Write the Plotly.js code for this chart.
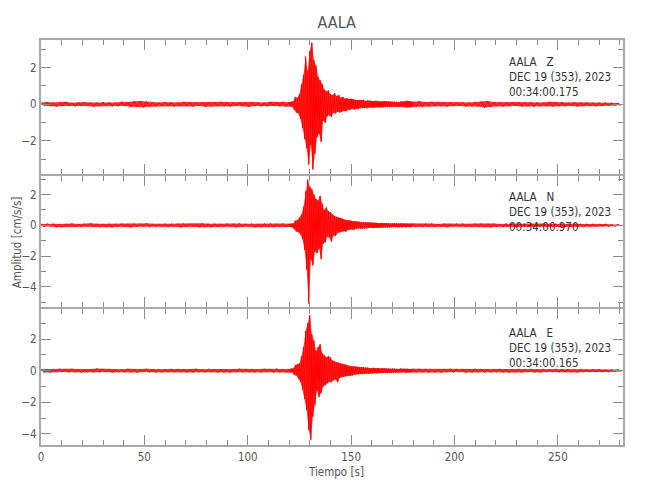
<!DOCTYPE html>
<html>
<head>
<meta charset="utf-8">
<script src="https://cdn.plot.ly/plotly-3.0.1.min.js"></script>
<style>html,body{margin:0;padding:0;background:#fff;}</style>
</head>
<body>
<div id="chart" style="width:650px;height:500px;"></div>
<script>
// Sampling of the three segments (start time, step in s)
var preStart = 0, preStep = 1.5;
var burstStart = 120.5, burstStep = 0.5;
var postStart = 181.5, postStep = 1.5;

// Component labels and header text
var components = ['Z', 'N', 'E'];
var startTimes = ['00:34:00.175', '00:34:00.970', '00:34:00.165'];
var station = 'AALA';
var dateLabel = 'DEC 19 (353), 2023';

// ---- Z component (cm/s/s), alternating peak values ----
var zPre = [
0.10,-0.08,0.12,-0.11,0.09,-0.12,0.11,-0.09,0.13,-0.10,
0.08,-0.12,0.11,-0.10,0.12,-0.09,0.10,-0.13,0.09,-0.11,
0.12,-0.10,0.11,-0.12,0.09,-0.11,0.13,-0.10,0.12,-0.14,
0.16,-0.15,0.18,-0.17,0.15,-0.13,0.11,-0.12,0.10,-0.09,
0.12,-0.11,0.10,-0.12,0.09,-0.10,0.13,-0.11,0.10,-0.12,
0.11,-0.09,0.12,-0.13,0.10,-0.11,0.12,-0.10,0.13,-0.11,
0.10,-0.12,0.11,-0.09,0.12,-0.11,0.10,-0.13,0.12,-0.10,
0.11,-0.12,0.09,-0.11,0.13,-0.10,0.12,-0.11,0.14,-0.12,
0.11];
var zBurst = [
-0.12,0.14,-0.13,0.15,-0.30,0.40,-0.45,0.35,-0.50,0.55,
-0.80,1.10,-1.30,1.60,-1.90,2.60,-2.40,1.80,-3.30,2.90,
-2.20,3.35,-3.55,2.40,-2.70,2.10,-1.80,1.50,-1.60,1.30,
-2.05,1.10,-0.90,0.80,-1.00,0.70,-0.65,0.75,-0.60,0.55,
-0.70,0.50,-0.45,0.60,-0.50,0.45,-0.40,0.50,-0.45,0.35,
-0.40,0.40,-0.35,0.30,-0.38,0.32,-0.30,0.28,-0.30,0.30,
-0.25,0.27,-0.28,0.24,-0.25,0.22,-0.26,0.23,-0.20,0.22,
-0.20,0.24,-0.20,0.18,-0.22,0.20,-0.18,0.20,-0.19,0.18,
-0.20,0.17,-0.18,0.20,-0.16,0.18,-0.17,0.16,-0.18,0.15,
-0.16,0.17,-0.15,0.16,-0.14,0.15,-0.16,0.14,-0.15,0.13,
-0.14,0.13,-0.15,0.14,-0.13,0.12,-0.14,0.15,-0.13,0.14,
-0.15,0.16,-0.18,0.19,-0.17,0.18,-0.16,0.15,-0.14,0.13];
var zPost = [
-0.14,0.16,-0.13,0.12,-0.11,0.13,-0.10,0.12,-0.11,0.10,
-0.12,0.11,-0.10,0.12,-0.09,0.11,-0.12,0.10,-0.11,0.13,
-0.12,0.15,-0.18,0.17,-0.14,0.12,-0.11,0.10,-0.12,0.11,
-0.10,0.12,-0.09,0.11,-0.12,0.10,-0.11,0.12,-0.13,0.11,
-0.12,0.10,-0.11,0.13,-0.12,0.11,-0.10,0.12,-0.11,0.09,
-0.10,0.11,-0.12,0.10,-0.09,0.11,-0.10,0.09,-0.11,0.10,
-0.09,0.10,-0.08,0.09,-0.08,0.07,-0.06];

// ---- N component (cm/s/s) ----
var nPre = [
0.09,-0.10,0.11,-0.08,0.10,-0.12,0.09,-0.11,0.10,-0.09,
0.12,-0.10,0.08,-0.11,0.10,-0.09,0.13,-0.11,0.10,-0.12,
0.09,-0.10,0.11,-0.12,0.10,-0.09,0.12,-0.11,0.10,-0.13,
0.12,-0.10,0.11,-0.09,0.13,-0.12,0.10,-0.11,0.09,-0.10,
0.12,-0.11,0.10,-0.09,0.11,-0.13,0.12,-0.10,0.11,-0.09,
0.10,-0.12,0.13,-0.11,0.10,-0.12,0.11,-0.10,0.09,-0.11,
0.12,-0.10,0.11,-0.13,0.12,-0.11,0.10,-0.09,0.11,-0.12,
0.10,-0.11,0.12,-0.10,0.13,-0.12,0.11,-0.10,0.12,-0.11,
0.10];
var nBurst = [
-0.11,0.12,-0.13,0.12,-0.25,0.30,-0.40,0.35,-0.45,0.50,
-0.60,0.70,-0.90,1.20,-1.60,2.20,-2.86,2.96,-5.08,2.50,
-2.20,2.35,-2.60,2.00,-1.70,1.70,-1.80,1.60,-1.50,1.90,
-2.20,1.40,-1.20,1.00,-1.10,1.16,-0.74,0.90,-0.80,0.85,
-1.06,0.70,-0.65,0.60,-0.70,0.55,-0.50,0.50,-0.45,0.48,
-0.40,0.42,-0.38,0.35,-0.40,0.33,-0.30,0.32,-0.28,0.30,
-0.27,0.25,-0.28,0.24,-0.22,0.25,-0.20,0.22,-0.21,0.20,
-0.22,0.19,-0.20,0.18,-0.19,0.20,-0.17,0.18,-0.16,0.17,
-0.18,0.16,-0.15,0.17,-0.16,0.15,-0.16,0.14,-0.15,0.16,
-0.14,0.15,-0.13,0.14,-0.15,0.13,-0.14,0.12,-0.13,0.14,
-0.12,0.13,-0.11,0.12,-0.13,0.11,-0.12,0.13,-0.12,0.11,
-0.10,0.12,-0.13,0.12,-0.11,0.10,-0.12,0.11,-0.10,0.12];
var nPost = [
-0.11,0.10,-0.12,0.11,-0.10,0.12,-0.11,0.09,-0.10,0.11,
-0.12,0.10,-0.09,0.11,-0.10,0.12,-0.11,0.10,-0.09,0.11,
-0.10,0.12,-0.11,0.10,-0.13,0.11,-0.10,0.09,-0.11,0.12,
-0.10,0.11,-0.12,0.10,-0.09,0.11,-0.10,0.12,-0.11,0.10,
-0.09,0.11,-0.10,0.09,-0.11,0.10,-0.12,0.11,-0.10,0.09,
-0.11,0.10,-0.09,0.08,-0.10,0.09,-0.08,0.10,-0.09,0.08,
-0.07,0.08,-0.07,0.06,-0.07,0.06,-0.05];

// ---- E component (cm/s/s) ----
var ePre = [
0.10,-0.11,0.09,-0.12,0.11,-0.10,0.12,-0.09,0.10,-0.11,
0.12,-0.10,0.11,-0.12,0.09,-0.10,0.11,-0.12,0.13,-0.10,
0.11,-0.09,0.10,-0.12,0.11,-0.10,0.09,-0.11,0.12,-0.10,
0.10,-0.12,0.11,-0.09,0.12,-0.11,0.10,-0.12,0.09,-0.11,
0.11,-0.10,0.12,-0.11,0.10,-0.09,0.11,-0.12,0.10,-0.11,
0.12,-0.10,0.09,-0.11,0.12,-0.10,0.11,-0.13,0.10,-0.11,
0.09,-0.12,0.11,-0.10,0.12,-0.11,0.10,-0.09,0.11,-0.12,
0.10,-0.11,0.12,-0.10,0.11,-0.12,0.13,-0.11,0.10,-0.12,
0.11];
var eBurst = [
-0.12,0.13,-0.12,0.14,-0.28,0.35,-0.30,0.42,-0.50,0.45,
-0.70,0.90,-1.20,1.50,-1.80,2.50,-2.50,3.00,-3.75,3.50,
-4.37,2.30,-2.90,1.90,-2.20,1.25,-1.25,1.50,-1.67,1.67,
-1.40,1.10,-1.00,0.95,-0.90,0.85,-0.80,0.90,-0.70,0.83,
-0.73,0.65,-0.60,0.60,-0.55,0.50,-0.73,0.50,-0.45,0.45,
-0.40,0.42,-0.38,0.40,-0.35,0.36,-0.32,0.30,-0.33,0.28,
-0.30,0.27,-0.25,0.26,-0.24,0.25,-0.22,0.23,-0.21,0.22,
-0.20,0.21,-0.20,0.19,-0.18,0.20,-0.18,0.17,-0.18,0.16,
-0.17,0.18,-0.16,0.15,-0.16,0.17,-0.15,0.14,-0.15,0.16,
-0.14,0.15,-0.13,0.14,-0.15,0.13,-0.14,0.12,-0.13,0.14,
-0.12,0.13,-0.11,0.12,-0.13,0.11,-0.12,0.13,-0.12,0.11,
-0.10,0.12,-0.13,0.12,-0.11,0.10,-0.12,0.11,-0.10,0.12];
var ePost = [
-0.11,0.12,-0.10,0.11,-0.12,0.10,-0.11,0.09,-0.12,0.11,
-0.10,0.12,-0.11,0.10,-0.09,0.11,-0.12,0.10,-0.11,0.12,
-0.10,0.11,-0.12,0.10,-0.11,0.09,-0.10,0.12,-0.11,0.10,
-0.12,0.11,-0.10,0.12,-0.11,0.10,-0.09,0.11,-0.12,0.10,
-0.11,0.10,-0.09,0.11,-0.10,0.12,-0.11,0.10,-0.09,0.11,
-0.10,0.09,-0.11,0.10,-0.09,0.08,-0.10,0.09,-0.08,0.09,
-0.08,0.07,-0.08,0.07,-0.06,0.07,-0.05];

// Axis settings
var xRange = [0, 281.5];
var yRanges = [[-3.8, 3.5], [-5.3, 3.2], [-4.7, 3.9]];

function sampleTimes(start, step, n) {
  var t = [];
  for (var i = 0; i < n; i++) t.push(start + i * step);
  return t;
}
var FILL = 'rgba(255,0,0,0.8)';
function buildTraces(pre, burst, post, idx) {
  var t = [].concat(sampleTimes(preStart, preStep, pre.length),
                    sampleTimes(burstStart, burstStep, burst.length),
                    sampleTimes(postStart, postStep, post.length));
  var y = [].concat(pre, burst, post);
  var sfx = idx === 0 ? '' : String(idx + 1);
  var upX = [], upY = [], loX = [], loY = [];
  for (var i = 0; i < y.length; i++) {
    if (y[i] >= 0) { upX.push(t[i]); upY.push(y[i]); }
    else { loX.push(t[i]); loY.push(y[i]); }
  }
  var base = {type: 'scatter', mode: 'lines', xaxis: 'x' + sfx, yaxis: 'y' + sfx,
              hoverinfo: 'skip', showlegend: false};
  return [
    Object.assign({}, base, {x: loX, y: loY, line: {width: 0, color: FILL}}),
    Object.assign({}, base, {x: upX, y: upY, line: {width: 0, color: FILL},
                             fill: 'tonexty', fillcolor: FILL}),
    Object.assign({}, base, {x: t, y: y, line: {color: '#ff0000', width: 1}})
  ];
}

var data = [].concat(buildTraces(zPre, zBurst, zPost, 0),
                     buildTraces(nPre, nBurst, nPost, 1),
                     buildTraces(ePre, eBurst, ePost, 2));

var FONT = 'DejaVu Sans Condensed, DejaVu Sans, sans-serif';
var axisLine = '#a9a9a9', tickCol = '#8a8a8a', textCol = '#555555';

function xAxis(anchor, labels) {
  return {range: xRange, anchor: anchor, showline: true, linecolor: axisLine, linewidth: 2,
          mirror: 'ticks', ticks: 'inside', ticklen: 10, tickwidth: 1, tickcolor: tickCol,
          tick0: 0, dtick: 50, showticklabels: labels,
          minor: {dtick: 10, ticks: 'inside', ticklen: 5, tickcolor: tickCol, tickwidth: 1},
          showgrid: false, zeroline: false,
          tickfont: {family: FONT, size: 11.5, color: textCol}};
}
function yAxis(anchor, range, domain) {
  return {range: range, domain: domain, anchor: anchor, showline: true, linecolor: axisLine,
          linewidth: 2, mirror: 'ticks', ticks: 'inside', ticklen: 10, tickwidth: 1,
          tickcolor: tickCol, tick0: 0, dtick: 2,
          minor: {dtick: 1, ticks: 'inside', ticklen: 5, tickcolor: tickCol, tickwidth: 1},
          showgrid: false, zeroline: false,
          tickfont: {family: FONT, size: 11.5, color: textCol}};
}

var g = 1 / 405; // one pixel of the plot height, so shared frame lines coincide
var doms = [[0.6667 + g, 1], [0.3383 + g, 0.6667 - g], [0, 0.3383 - g]];
var annTops = [0.968, 0.634, 0.299];
var annotations = [];
for (var i = 0; i < 3; i++) {
  annotations.push({xref: 'paper', yref: 'paper', x: 0.8007, y: annTops[i],
    xanchor: 'left', yanchor: 'top', align: 'left', showarrow: false,
    text: station + '\u00a0\u00a0\u00a0' + components[i] + '<br>' + dateLabel + '<br>' + startTimes[i],
    font: {family: FONT, size: 11.5, color: '#333333'}});
}
annotations.push({xref: 'paper', yref: 'paper', x: -0.041, y: 0.501, textangle: -90,
  xanchor: 'center', yanchor: 'middle', showarrow: false, text: 'Amplitud [cm/s/s]',
  font: {family: FONT, size: 11.5, color: textCol}});
annotations.push({xref: 'paper', yref: 'paper', x: 0.507, y: -0.067,
  xanchor: 'center', yanchor: 'middle', showarrow: false, text: 'Tiempo [s]',
  font: {family: FONT, size: 11.5, color: textCol}});

var layout = {
  width: 650, height: 500,
  margin: {l: 41, r: 27, t: 40, b: 55},
  paper_bgcolor: '#ffffff', plot_bgcolor: '#ffffff',
  title: {text: station, x: 0.518, xanchor: 'center', y: 0.956, yanchor: 'middle',
          font: {family: FONT, size: 16, color: textCol}},
  xaxis: xAxis('y', false), xaxis2: xAxis('y2', false), xaxis3: xAxis('y3', true),
  yaxis: yAxis('x', yRanges[0], doms[0]),
  yaxis2: yAxis('x2', yRanges[1], doms[1]),
  yaxis3: yAxis('x3', yRanges[2], doms[2]),
  annotations: annotations,
  showlegend: false
};

Plotly.newPlot('chart', data, layout, {displayModeBar: false, staticPlot: true});
</script>
</body>
</html>
